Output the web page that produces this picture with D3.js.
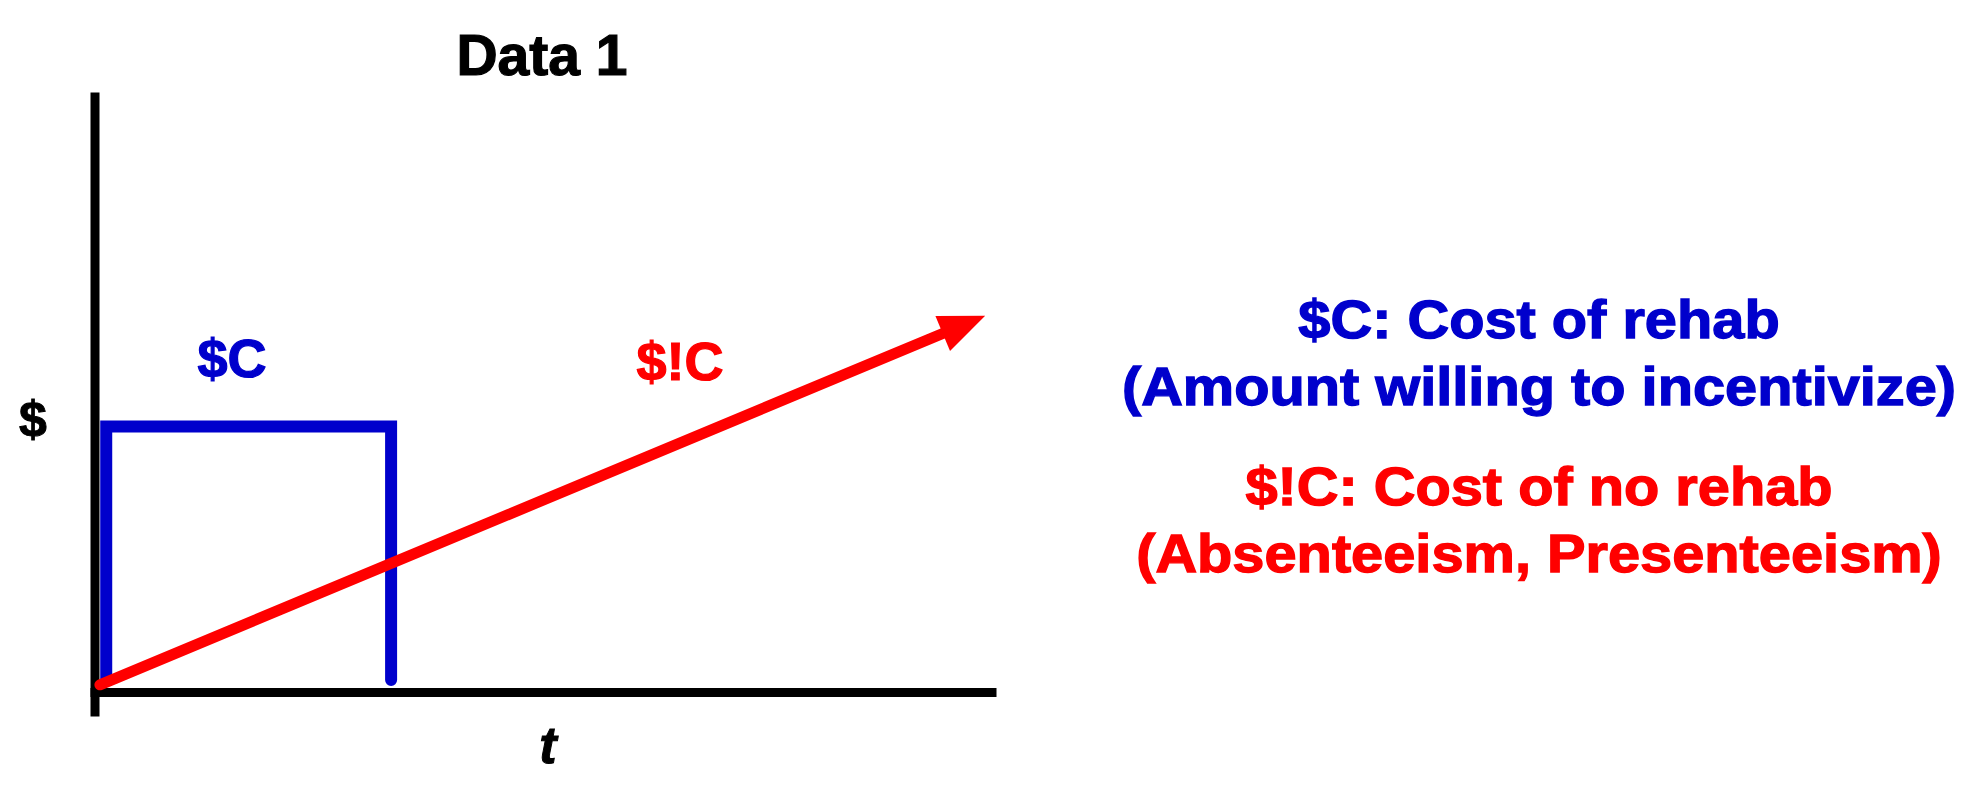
<!DOCTYPE html>
<html>
<head>
<meta charset="utf-8">
<script src="https://cdn.jsdelivr.net/npm/d3@7"></script>
<style>
  html, body { margin: 0; padding: 0; background: #fff; }
  text { font-family: "Liberation Sans", Arial, Helvetica, sans-serif; font-weight: bold; }
</style>
</head>
<body>
<div id="plot"></div>
<script>
// Sample data (conceptual units, 0..100 on each axis)
const rehabX = [1.3, 1.3, 32.9, 32.9];
const rehabY = [2.0, 44.25, 44.25, 2.0];
const noRehabX = [0.6, 98.8];
const noRehabY = [1.2, 62.7];

const titleText = "Data 1";
const legendLines = [
  "$C: Cost of rehab",
  "(Amount willing to incentivize)",
  "$!C: Cost of no rehab",
  "(Absenteeism, Presenteeism)"
];
const legendColors = ["#0000cc", "#0000cc", "#ff0000", "#ff0000"];

const blue = "#0000cc";
const red = "#ff0000";

// SVG size
const W = 1984, H = 796;

const svg = d3.select("#plot")
  .append("svg")
  .attr("width", W)
  .attr("height", H);

// Scales
const x = d3.scaleLinear().domain([-0.5, 100]).range([90, 996]);
const y = d3.scaleLinear().domain([-4, 100]).range([716, 92]);

// Axes (no ticks, just thick lines)
svg.append("g")
  .attr("transform", `translate(0, ${y(0)})`)
  .call(d3.axisBottom(x).ticks(0).tickSizeOuter(0));
svg.append("g")
  .attr("transform", `translate(${x(0)}, 0)`)
  .call(d3.axisLeft(y).ticks(0).tickSizeOuter(0));
svg.selectAll(".domain")
  .attr("stroke", "#000")
  .attr("stroke-width", 9);

// Title
svg.append("text")
  .attr("x", 542)
  .attr("y", 75)
  .attr("text-anchor", "middle")
  .style("font-size", "57px")
  .style("fill", "#000")
  .style("stroke", "#000")
  .style("stroke-width", 1.2)
  .text(titleText);

// Axis labels
svg.append("text")
  .attr("x", 33)
  .attr("y", 436)
  .attr("text-anchor", "middle")
  .style("font-size", "50px")
  .style("fill", "#000")
  .style("stroke", "#000")
  .style("stroke-width", 1)
  .text("$");

svg.append("text")
  .attr("x", 548)
  .attr("y", 763)
  .attr("text-anchor", "middle")
  .style("font-size", "52px")
  .style("font-style", "italic")
  .style("fill", "#000")
  .style("stroke", "#000")
  .style("stroke-width", 1)
  .text("t");

// Cost of rehab (blue box)
const line = d3.line().x(d => x(d[0])).y(d => y(d[1]));
svg.append("path")
  .datum(d3.zip(rehabX, rehabY))
  .attr("d", line)
  .attr("fill", "none")
  .attr("stroke", blue)
  .attr("stroke-width", 12)
  .attr("stroke-linejoin", "miter")
  .attr("stroke-linecap", "round");

// Cost of no rehab (red arrow)
const p0 = [x(noRehabX[0]), y(noRehabY[0])];
const p1 = [x(noRehabX[1]), y(noRehabY[1])];
const dx = p1[0] - p0[0], dy = p1[1] - p0[1];
const len = Math.hypot(dx, dy);
const ux = dx / len, uy = dy / len;
const headLen = 46, headHalf = 19;
const base = [p1[0] - ux * headLen, p1[1] - uy * headLen];

svg.append("line")
  .attr("x1", p0[0]).attr("y1", p0[1])
  .attr("x2", base[0] + ux * 2).attr("y2", base[1] + uy * 2)
  .attr("stroke", red)
  .attr("stroke-width", 11)
  .attr("stroke-linecap", "round");

svg.append("polygon")
  .attr("points", [
    p1,
    [base[0] - uy * headHalf, base[1] + ux * headHalf],
    [base[0] + uy * headHalf, base[1] - ux * headHalf]
  ].map(p => p.join(",")).join(" "))
  .attr("fill", red);

// Series labels
svg.append("text")
  .attr("x", 232)
  .attr("y", 377)
  .attr("text-anchor", "middle")
  .style("font-size", "54px")
  .style("fill", blue)
  .style("stroke", blue)
  .style("stroke-width", 1.2)
  .text("$C");

svg.append("text")
  .attr("x", 680)
  .attr("y", 380)
  .attr("text-anchor", "middle")
  .style("font-size", "54px")
  .style("fill", red)
  .style("stroke", red)
  .style("stroke-width", 1.2)
  .text("$!C");

// Legend text on the right
const legendY = [338, 405, 505, 572];
const legend = svg.append("g")
  .attr("transform", "translate(1539, 0) scale(1.09, 1)");
legend.selectAll("text")
  .data(legendLines)
  .enter()
  .append("text")
  .attr("x", 0)
  .attr("y", (d, i) => legendY[i])
  .attr("text-anchor", "middle")
  .style("font-size", "53px")
  .style("fill", (d, i) => legendColors[i])
  .style("stroke", (d, i) => legendColors[i])
  .style("stroke-width", 1.3)
  .text(d => d);
</script>
</body>
</html>
